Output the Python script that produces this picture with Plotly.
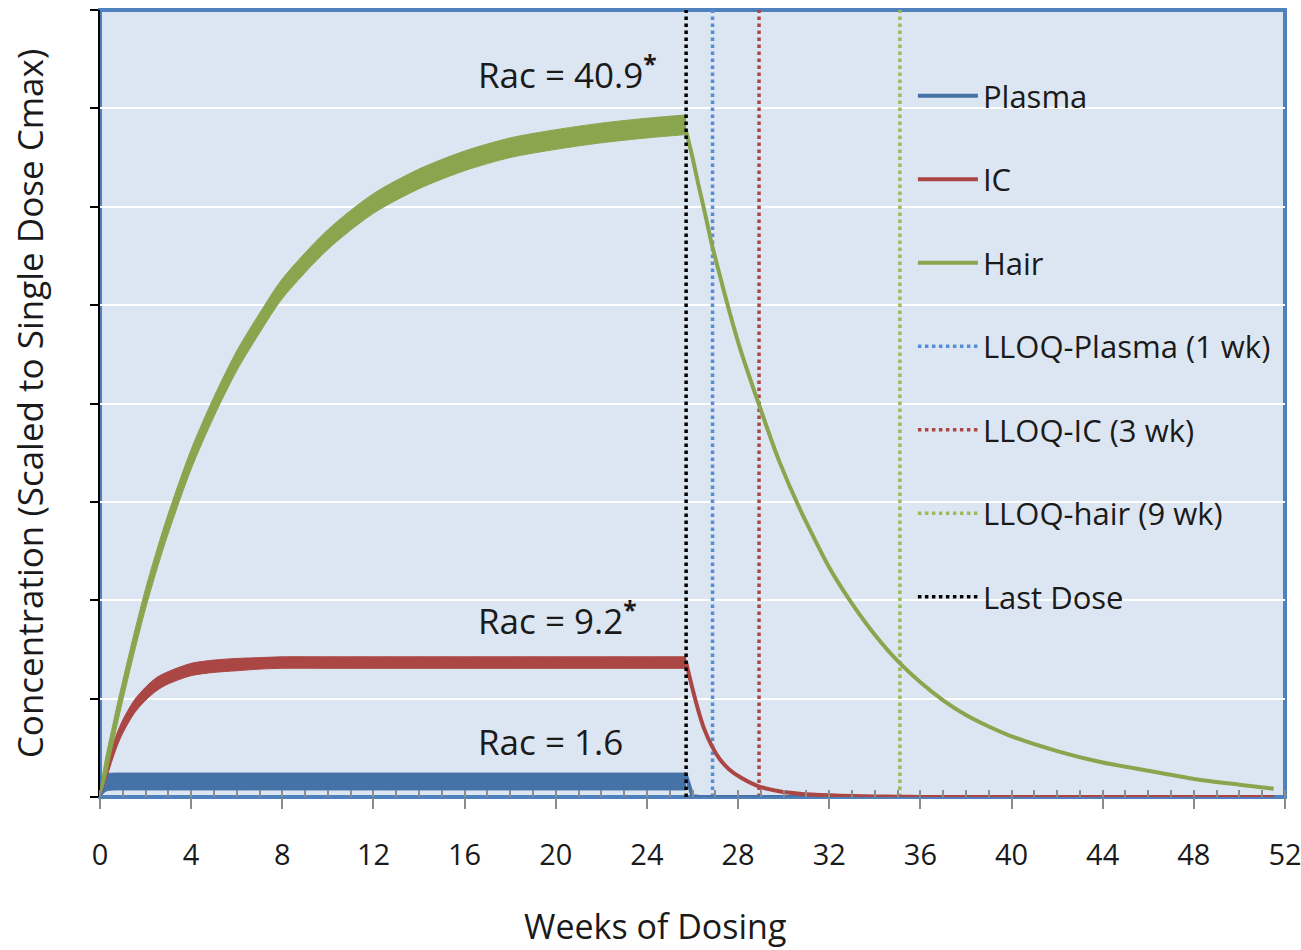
import plotly.graph_objects as go

# ---------------- data ----------------
weeks_dose = [0, 0.25, 0.5, 0.75, 1, 1.5, 2, 2.5, 3, 4, 5, 6, 7, 8, 10, 12, 14, 16, 18, 20, 22, 24, 25.72]

plasma_peak = [1.2, 1.42, 1.45, 1.46, 1.46, 1.46, 1.46, 1.46, 1.46, 1.46, 1.46, 1.46, 1.46, 1.46, 1.46, 1.46, 1.46, 1.46, 1.46, 1.46, 1.46, 1.46, 1.46]
plasma_trough = [0.0, 0.35, 0.42, 0.43, 0.43, 0.43, 0.43, 0.43, 0.43, 0.43, 0.43, 0.43, 0.43, 0.43, 0.43, 0.43, 0.43, 0.43, 0.43, 0.43, 0.43, 0.43, 0.43]

ic_peak = [0.3, 1.8, 2.9, 3.9, 4.7, 5.9, 6.7, 7.3, 7.65, 8.15, 8.35, 8.45, 8.5, 8.55, 8.55, 8.55, 8.55, 8.55, 8.55, 8.55, 8.55, 8.55, 8.55]
ic_trough = [0.0, 1.0, 2.1, 3.1, 3.9, 5.1, 5.9, 6.5, 6.9, 7.4, 7.6, 7.7, 7.8, 7.85, 7.85, 7.85, 7.85, 7.85, 7.85, 7.85, 7.85, 7.85, 7.85]

hair_peak = [0.4, 2.4, 4.0, 5.6, 7.1, 10.0, 12.7, 15.1, 17.3, 21.2, 24.4, 27.2, 29.5, 31.6, 34.6, 36.8, 38.3, 39.4, 40.2, 40.7, 41.1, 41.4, 41.6]
hair_trough = [0.0, 1.2, 2.8, 4.4, 5.9, 8.8, 11.5, 13.9, 16.1, 20.0, 23.2, 26.0, 28.3, 30.4, 33.4, 35.6, 37.1, 38.2, 39.0, 39.5, 39.9, 40.2, 40.4]

weeks_wash = [25.72, 26, 26.25, 26.5, 26.85, 27.2, 27.6, 28.1, 28.9, 29.8, 30.7, 32, 33, 34, 35, 36, 37, 38, 39, 40, 42, 44, 46, 48, 50, 51.5]
plasma_wash = [1.3, 0.05, 0.02, 0.0, 0.0, 0.0, 0.0, 0.0, 0.0, 0.0, 0.0, 0.0, 0.0, 0.0, 0.0, 0.0, 0.0, 0.0, 0.0, 0.0, 0.0, 0.0, 0.0, 0.0, 0.0, 0.0]
ic_wash = [8.2, 6.6, 5.3, 4.2, 3.1, 2.3, 1.7, 1.2, 0.65, 0.35, 0.2, 0.1, 0.06, 0.03, 0.02, 0.0, 0.0, 0.0, 0.0, 0.0, 0.0, 0.0, 0.0, 0.0, 0.0, 0.0]
hair_wash = [40.6, 39.0, 37.4, 35.9, 33.7, 31.8, 29.7, 27.3, 24.0, 20.5, 17.6, 14.0, 11.8, 9.9, 8.3, 7.0, 5.9, 5.0, 4.3, 3.7, 2.8, 2.1, 1.6, 1.1, 0.75, 0.5]

series_names = ["Plasma", "IC", "Hair"]
lloq_names = ["LLOQ-Plasma (1 wk)", "LLOQ-IC (3 wk)", "LLOQ-hair (9 wk)"]
lloq_weeks = [26.88, 28.92, 35.1]
last_dose_week = 25.72

rac_labels = ["Rac = 40.9<sup><b>*</b></sup>", "Rac = 9.2<sup><b>*</b></sup>", "Rac = 1.6"]
rac_y = [44.2, 10.9, 3.4]
rac_x = 16.5

x_ticks = list(range(0, 53, 4))
Y_MAX = 48
X_MAX = 52

# ---------------- styles ----------------
COL = {"Plasma": "#4572a7", "IC": "#aa4643", "Hair": "#89a54e"}
LLOQ_COL = ["#558ed5", "#aa4643", "#9bbb59"]
FONT = "Open Sans"
TXT = "#1a1a1a"

fig = go.Figure()

# LLOQ vertical lines (behind curves)
for i, (nm, wk) in enumerate(zip(lloq_names, lloq_weeks)):
    fig.add_trace(go.Scatter(
        x=[wk, wk], y=[0, Y_MAX], mode="lines", name=nm,
        line=dict(color=LLOQ_COL[i], width=3.5, dash="dot"),
        legendgroup=nm, legendrank=4 + i, hoverinfo="skip"))

bands = {
    "Plasma": (plasma_peak, plasma_trough, plasma_wash),
    "IC": (ic_peak, ic_trough, ic_wash),
    "Hair": (hair_peak, hair_trough, hair_wash),
}
for rank, nm in enumerate(series_names):
    peak, trough, wash = bands[nm]
    c = COL[nm]
    fig.add_trace(go.Scatter(x=weeks_dose, y=peak, mode="lines",
                             line=dict(color=c, width=1, shape="spline", smoothing=0.8),
                             showlegend=False, legendgroup=nm, hoverinfo="skip"))
    fig.add_trace(go.Scatter(x=weeks_dose, y=trough, mode="lines", fill="tonexty",
                             fillcolor=c,
                             line=dict(color=c, width=1, shape="spline", smoothing=0.8),
                             showlegend=False, legendgroup=nm, hoverinfo="skip"))
    wash_shape = "linear" if nm == "Plasma" else "spline"
    fig.add_trace(go.Scatter(x=weeks_wash, y=wash, mode="lines", name=nm,
                             line=dict(color=c, width=4, shape=wash_shape, smoothing=0.6),
                             legendgroup=nm, legendrank=1 + rank))

# Last dose line
fig.add_trace(go.Scatter(
    x=[last_dose_week, last_dose_week], y=[0, Y_MAX], mode="lines", name="Last Dose",
    line=dict(color="black", width=3.5, dash="dot"),
    legendgroup="Last Dose", legendrank=7, hoverinfo="skip"))

for lab, yy in zip(rac_labels, rac_y):
    fig.add_annotation(x=rac_x, y=yy, text=lab, showarrow=False, xanchor="left",
                       yanchor="middle", font=dict(family=FONT, size=35, color=TXT))

# x-axis title (offset to the left of the plot centre, as in the reference)
fig.add_annotation(x=0.468, y=-0.164, xref="paper", yref="paper", text="Weeks of Dosing",
                   showarrow=False, xanchor="center", yanchor="middle",
                   font=dict(family=FONT, size=34, color=TXT))

fig.add_shape(type="rect", xref="paper", yref="paper", x0=0, x1=1, y0=0, y1=1,
              line=dict(color="#4f81bd", width=4), layer="below")

fig.update_layout(
    width=1301, height=950,
    margin=dict(l=100, r=16, t=10, b=153, autoexpand=False),
    plot_bgcolor="#dce6f2", paper_bgcolor="white",
    font=dict(family=FONT, size=30, color=TXT),
    showlegend=True,
    legend=dict(x=0.686, y=0.925, xanchor="left", yanchor="top",
                bgcolor="rgba(0,0,0,0)", font=dict(family=FONT, size=31, color=TXT),
                traceorder="grouped", tracegroupgap=40.2, itemwidth=60),
    xaxis=dict(range=[0, X_MAX], tickvals=x_ticks, ticks="outside", ticklen=11,
               tickwidth=2, tickcolor="#8c8c8c", showgrid=False, zeroline=False,
               showline=False, tickfont=dict(family=FONT, size=29, color=TXT),
               ticklabelstandoff=21, ticklabeloverflow="allow", automargin=False,
               minor=dict(dtick=1, ticks="inside", ticklen=7, tickwidth=2,
                          tickcolor="#8c8c8c", showgrid=False)),
    yaxis=dict(range=[0, Y_MAX], dtick=6, ticks="outside", ticklen=8, tickwidth=2,
               tickcolor="black", showticklabels=False, showgrid=True,
               gridcolor="white", gridwidth=2, zeroline=False, automargin=False,
               showline=True, linecolor="black", linewidth=2,
               title=dict(text="Concentration (Scaled to Single Dose Cmax)", standoff=36,
                          font=dict(family=FONT, size=35, color=TXT))),
)

fig.write_html("out.html")
